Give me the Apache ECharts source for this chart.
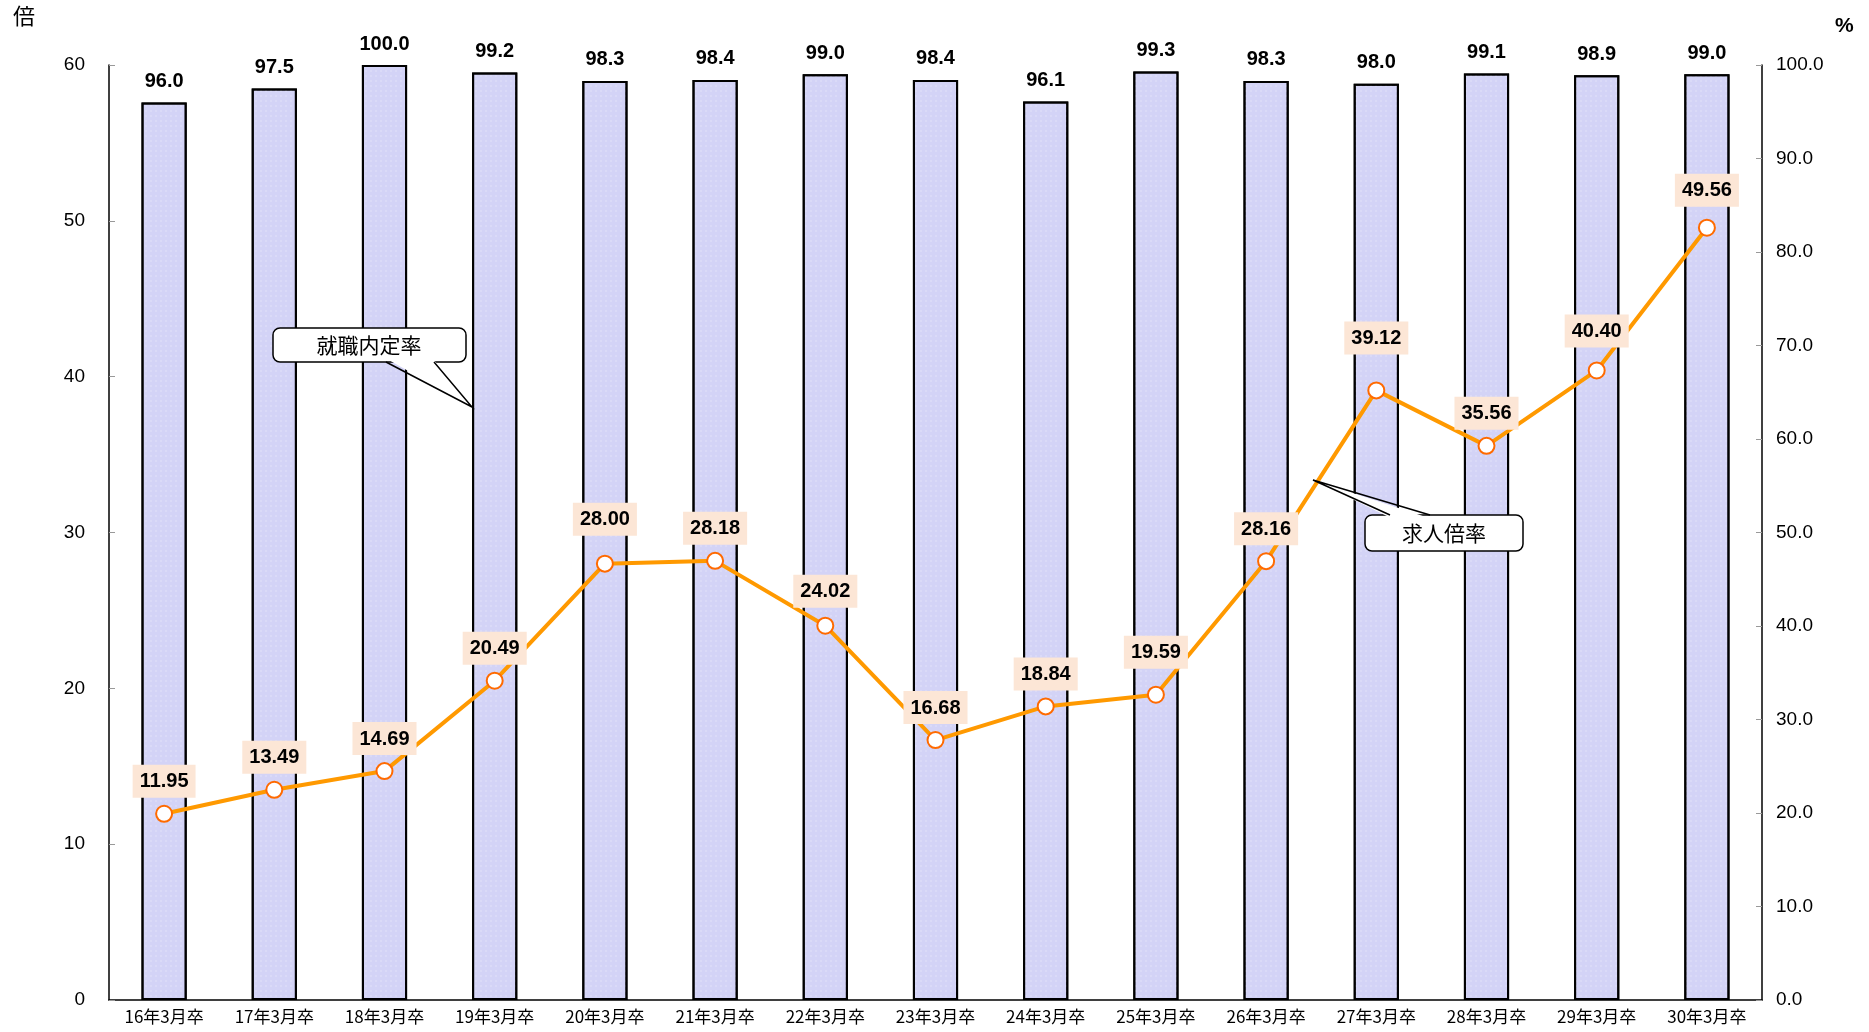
<!DOCTYPE html>
<html>
<head>
<meta charset="utf-8">
<script src="https://cdn.jsdelivr.net/npm/echarts@6/dist/echarts.min.js"></script>
<style>
html,body{margin:0;padding:0;background:#fff;}
#chart{width:1869px;height:1032px;}
</style>
</head>
<body>
<div id="chart"></div>
<script>
var categories = ['16年3月卒','17年3月卒','18年3月卒','19年3月卒','20年3月卒','21年3月卒','22年3月卒','23年3月卒','24年3月卒','25年3月卒','26年3月卒','27年3月卒','28年3月卒','29年3月卒','30年3月卒'];
var naiteiRate = [96.0, 97.5, 100.0, 99.2, 98.3, 98.4, 99.0, 98.4, 96.1, 99.3, 98.3, 98.0, 99.1, 98.9, 99.0];
var kyujinRatio = [11.95, 13.49, 14.69, 20.49, 28.00, 28.18, 24.02, 16.68, 18.84, 19.59, 28.16, 39.12, 35.56, 40.40, 49.56];
var leftTicks = [0, 60, 10];
var rightTicks = [0, 100, 10];
// extra vertical lift (px) of each ratio label, a style setting
var ratioLabelLift = [0, 0, 0, 0, 12, 0, 2, 0, 0, 10, 0, 20, 0, 7, 5];

var latin = "'Liberation Sans', Arial, 'Noto Sans CJK JP', sans-serif";
var cjk = "'Noto Sans CJK JP', 'Liberation Sans', sans-serif";

var lineData = kyujinRatio.map(function (v, i) {
  return {value: v, label: {offset: [0, -ratioLabelLift[i]]}};
});

var chart = echarts.init(document.getElementById('chart'));
chart.setOption({
  backgroundColor: '#ffffff',
  animation: false,
  grid: {left: 109, right: 107, top: 65, bottom: 32},
  xAxis: {
    type: 'category',
    data: categories,
    axisLine: {lineStyle: {color: '#000', width: 1.5}},
    axisTick: {inside: true, length: 6, lineStyle: {color: '#999'}},
    axisLabel: {color: '#000', fontSize: 17, fontFamily: cjk, margin: 8}
  },
  yAxis: [{
    type: 'value', min: leftTicks[0], max: leftTicks[1], interval: leftTicks[2],
    axisLine: {show: true, lineStyle: {color: '#000', width: 1.5}},
    axisTick: {show: true, inside: true, length: 6, lineStyle: {color: '#999'}},
    splitLine: {show: false},
    axisLabel: {color: '#000', fontSize: 19, fontFamily: latin, margin: 24}
  }, {
    type: 'value', min: rightTicks[0], max: rightTicks[1], interval: rightTicks[2],
    position: 'right',
    axisLine: {show: true, lineStyle: {color: '#000', width: 1.5}},
    axisTick: {show: true, inside: true, length: 6, lineStyle: {color: '#999'}},
    splitLine: {show: false},
    axisLabel: {color: '#000', fontSize: 19, fontFamily: latin, margin: 14,
      formatter: function (v) { return v.toFixed(1); }}
  }],
  series: [{
    name: '就職内定率',
    type: 'bar',
    yAxisIndex: 1,
    data: naiteiRate,
    barWidth: '41%',
    itemStyle: {
      color: '#d3d3f6',
      borderColor: '#000',
      borderWidth: 2,
      decal: {
        symbol: 'rect',
        symbolSize: 0.6,
        color: 'rgba(255,255,255,0.55)',
        dashArrayX: [[2, 3]],
        dashArrayY: [2, 3],
        rotation: 0
      }
    },
    label: {
      show: true, position: 'top', distance: 11,
      color: '#000', fontSize: 20, fontWeight: 'bold', fontFamily: latin,
      formatter: function (p) { return p.value.toFixed(1); }
    },
    z: 2
  }, {
    name: '求人倍率',
    type: 'line',
    yAxisIndex: 0,
    data: lineData,
    symbol: 'circle',
    symbolSize: 16,
    lineStyle: {color: '#ff9900', width: 4},
    itemStyle: {color: '#ffffff', borderColor: '#ff6a00', borderWidth: 2},
    label: {
      show: true, position: 'top', distance: 7,
      color: '#000', fontSize: 20, fontWeight: 'bold', fontFamily: latin,
      backgroundColor: '#fce6d6', padding: [7, 7, 6, 7],
      formatter: function (p) { return p.value.toFixed(2); }
    },
    z: 5
  }],
  graphic: [
    {type: 'text', left: 13, top: 5, style: {text: '倍', font: '22px ' + cjk, fill: '#000'}},
    {type: 'text', left: 1835, top: 16, style: {text: '%', font: 'bold 21px ' + latin, fill: '#000'}},
    // 就職内定率 callout
    {type: 'rect', shape: {x: 273, y: 328, width: 193, height: 34, r: 7},
      style: {fill: '#fff', stroke: '#000', lineWidth: 1.5}, z: 100},
    {type: 'polygon', shape: {points: [[387, 359], [433, 359], [472, 407]]},
      style: {fill: '#fff', stroke: null}, z: 101},
    {type: 'polyline', shape: {points: [[386, 362], [472, 407], [434, 362]]},
      style: {fill: null, stroke: '#000', lineWidth: 1.5}, z: 102},
    {type: 'text', x: 369, y: 345, z: 103,
      style: {text: '就職内定率', font: '21px ' + cjk, fill: '#000', textAlign: 'center', textVerticalAlign: 'middle'}},
    // 求人倍率 callout
    {type: 'rect', shape: {x: 1365, y: 515, width: 158, height: 36, r: 7},
      style: {fill: '#fff', stroke: '#000', lineWidth: 1.5}, z: 100},
    {type: 'polygon', shape: {points: [[1391, 518], [1429, 518], [1313, 480]]},
      style: {fill: '#fff', stroke: null}, z: 101},
    {type: 'polyline', shape: {points: [[1390, 515], [1313, 480], [1430, 515]]},
      style: {fill: null, stroke: '#000', lineWidth: 1.5}, z: 102},
    {type: 'text', x: 1444, y: 533, z: 103,
      style: {text: '求人倍率', font: '21px ' + cjk, fill: '#000', textAlign: 'center', textVerticalAlign: 'middle'}}
  ]
});
</script>
</body>
</html>
